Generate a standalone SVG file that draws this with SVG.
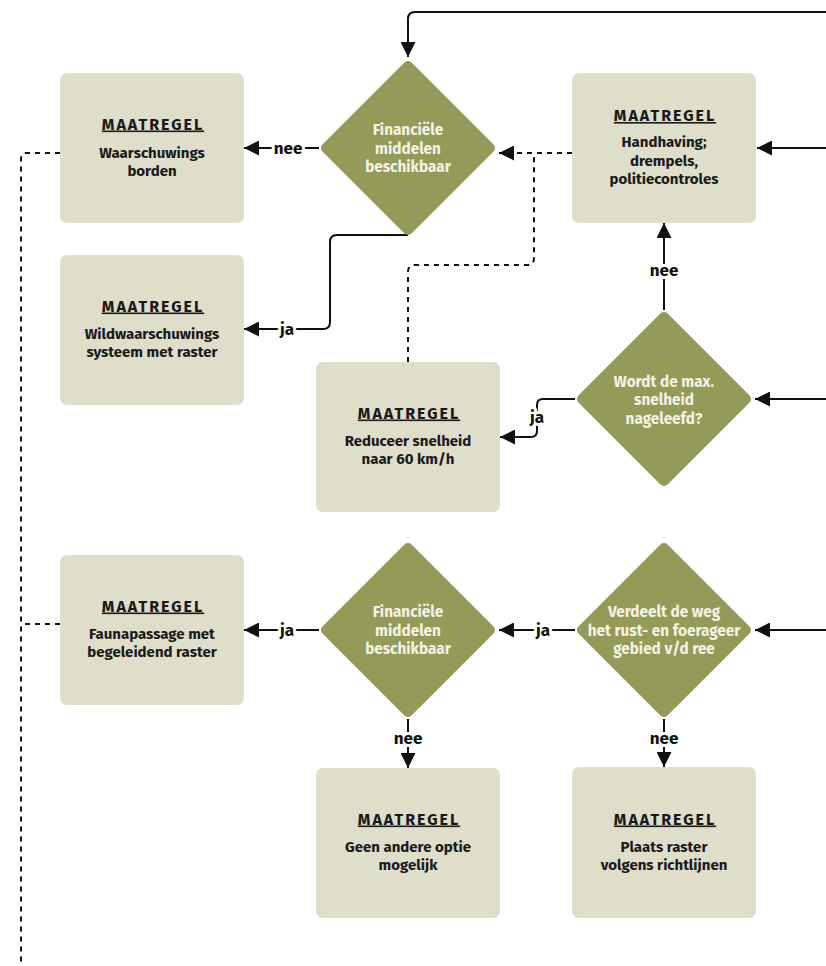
<svg xmlns="http://www.w3.org/2000/svg" width="826" height="966" viewBox="0 0 826 966">
<defs>
<marker id="arr" markerUnits="userSpaceOnUse" markerWidth="15" markerHeight="15" viewBox="0 0 15 15" refX="15" refY="7.5" orient="auto">
<path d="M0,0 L15,7.5 L0,15 z" fill="#111"/>
</marker>
<style>
.box{fill:#dfdecb}
.dia{fill:#949a58}
.t{font-family:"Fira Sans",Lato,"Open Sans",sans-serif;font-weight:700;text-anchor:middle}
.hd{font-size:16px;letter-spacing:2px;fill:#1a1a1a;text-decoration:underline}
.bd{font-size:15px;fill:#1a1a1a}
.dt{font-size:15.3px;fill:#f4f2e4}
.lb{font-size:17px;fill:#111;stroke:#fff;stroke-width:6px;paint-order:stroke;stroke-linejoin:round}
.ln{fill:none;stroke:#111;stroke-width:2}
.ds{fill:none;stroke:#111;stroke-width:2;stroke-dasharray:5 5}
</style>
</defs>
<rect width="826" height="966" fill="#fff"/>

<g id="connectors">
<path class="ln" d="M826,12 H415 Q408,12 408,19 V57" marker-end="url(#arr)"/>
<path class="ln" d="M319,148 H244" marker-end="url(#arr)"/>
<path class="ln" d="M408,235 H337 Q330,235 330,242 V322 Q330,329 323,329 H244" marker-end="url(#arr)"/>
<path class="ds" d="M572,153 H499" marker-end="url(#arr)"/>
<path class="ds" d="M408,362 V272 Q408,265 415,265 H527 Q534,265 534,258 V153"/>
<path class="ln" d="M826,148 H757" marker-end="url(#arr)"/>
<path class="ln" d="M664,310 V223" marker-end="url(#arr)"/>
<path class="ln" d="M826,399 H755" marker-end="url(#arr)"/>
<path class="ln" d="M575,399 H543 Q537,399 537,405 V431 Q537,437 531,437 H500" marker-end="url(#arr)"/>
<path class="ln" d="M826,630 H755" marker-end="url(#arr)"/>
<path class="ln" d="M575,630 H499" marker-end="url(#arr)"/>
<path class="ln" d="M319,630 H244" marker-end="url(#arr)"/>
<path class="ln" d="M408,719 V768" marker-end="url(#arr)"/>
<path class="ln" d="M664,719 V767" marker-end="url(#arr)"/>
<path class="ds" d="M60,153 H27 Q21,153 21,159 V966"/>
<path class="ds" d="M60,624 H21"/>
<text class="t lb" x="288" y="154">nee</text>
<text class="t lb" x="287" y="335">ja</text>
<text class="t lb" x="664" y="276">nee</text>
<text class="t lb" x="537" y="423">ja</text>
<text class="t lb" x="543" y="636">ja</text>
<text class="t lb" x="287" y="636">ja</text>
<text class="t lb" x="408" y="744">nee</text>
<text class="t lb" x="664" y="744">nee</text>
</g>

<g id="box-waarschuwings">
<rect class="box" x="60" y="73" width="184" height="150" rx="7"/>
<text class="t hd" x="153" y="129.5">MAATREGEL</text>
<text class="t bd" x="152" y="157.5">Waarschuwings</text>
<text class="t bd" x="152" y="176">borden</text>
</g>

<g id="box-handhaving">
<rect class="box" x="572" y="73" width="184" height="150" rx="7"/>
<text class="t hd" x="665" y="121">MAATREGEL</text>
<text class="t bd" x="664" y="147">Handhaving;</text>
<text class="t bd" x="664" y="165.5">drempels,</text>
<text class="t bd" x="664" y="184">politiecontroles</text>
</g>

<g id="box-wildwaarschuwings">
<rect class="box" x="60" y="255" width="184" height="150" rx="7"/>
<text class="t hd" x="153" y="311.5">MAATREGEL</text>
<text class="t bd" x="152" y="338.5">Wildwaarschuwings</text>
<text class="t bd" x="152" y="357">systeem met raster</text>
</g>

<g id="box-reduceer">
<rect class="box" x="316" y="362" width="184" height="150" rx="7"/>
<text class="t hd" x="409" y="418.5">MAATREGEL</text>
<text class="t bd" x="408" y="445.5">Reduceer snelheid</text>
<text class="t bd" x="408" y="464">naar 60 km/h</text>
</g>

<g id="box-faunapassage">
<rect class="box" x="60" y="555" width="184" height="150" rx="7"/>
<text class="t hd" x="153" y="611.5">MAATREGEL</text>
<text class="t bd" x="152" y="638.5">Faunapassage met</text>
<text class="t bd" x="152" y="657">begeleidend raster</text>
</g>

<g id="box-geen">
<rect class="box" x="316" y="768" width="184" height="150" rx="7"/>
<text class="t hd" x="409" y="824.5">MAATREGEL</text>
<text class="t bd" x="408" y="851.5">Geen andere optie</text>
<text class="t bd" x="408" y="870">mogelijk</text>
</g>

<g id="box-plaats">
<rect class="box" x="572" y="767" width="184" height="151" rx="7"/>
<text class="t hd" x="665" y="824.5">MAATREGEL</text>
<text class="t bd" x="664" y="851.5">Plaats raster</text>
<text class="t bd" x="664" y="870">volgens richtlijnen</text>
</g>

<g id="dia-financiele-1">
<rect class="dia" x="-63" y="-63" width="126" height="126" rx="5" transform="translate(408,148) rotate(45)"/>
<text class="t dt" x="408" y="135">Financiële</text>
<text class="t dt" x="408" y="153.5">middelen</text>
<text class="t dt" x="408" y="172">beschikbaar</text>
</g>

<g id="dia-snelheid">
<rect class="dia" x="-63" y="-63" width="126" height="126" rx="5" transform="translate(664,399) rotate(45)"/>
<text class="t dt" x="664" y="386.5">Wordt de max.</text>
<text class="t dt" x="664" y="405">snelheid</text>
<text class="t dt" x="664" y="423.5">nageleefd?</text>
</g>

<g id="dia-financiele-2">
<rect class="dia" x="-63" y="-63" width="126" height="126" rx="5" transform="translate(408,630) rotate(45)"/>
<text class="t dt" x="408" y="617">Financiële</text>
<text class="t dt" x="408" y="635.5">middelen</text>
<text class="t dt" x="408" y="654">beschikbaar</text>
</g>

<g id="dia-verdeelt">
<rect class="dia" x="-63" y="-63" width="126" height="126" rx="5" transform="translate(664,630) rotate(45)"/>
<text class="t dt" x="664" y="617">Verdeelt de weg</text>
<text class="t dt" x="664" y="635.5">het rust- en foerageer</text>
<text class="t dt" x="664" y="654">gebied v/d ree</text>
</g>
</svg>
